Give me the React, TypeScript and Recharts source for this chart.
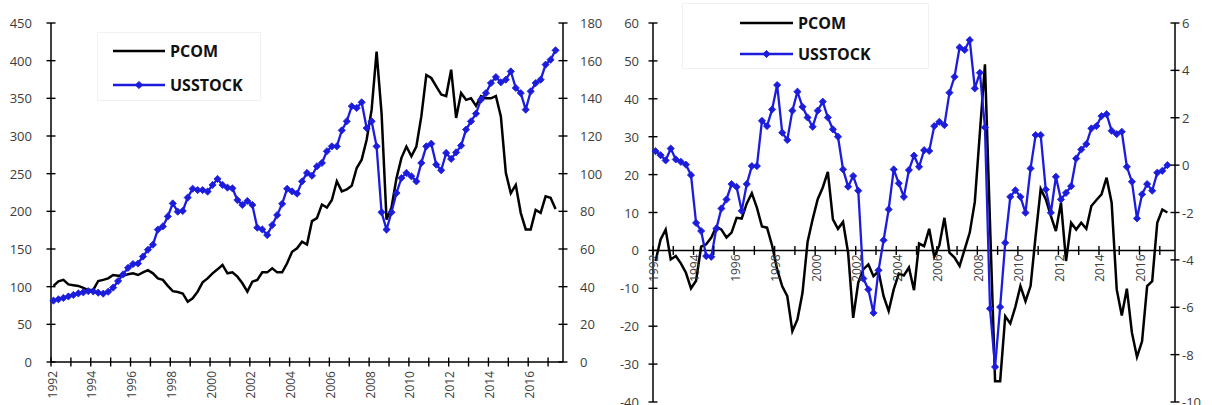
import React from "react";
import { LineChart, Line, XAxis, YAxis, Legend, ReferenceLine } from "recharts";

const FONT = "'Open Sans', 'Noto Sans', sans-serif";
const INK = "#3c3c3c";
const BLUE = "#1c1cdc";

// Quarterly calendar, 1992Q1 .. 2017Q2
const START_YEAR = 1992;
const QUARTER_COUNT = 102;
const QUARTERS: string[] = Array.from(
  { length: QUARTER_COUNT },
  (_, i) => `${START_YEAR + Math.floor(i / 4)}Q${(i % 4) + 1}`
);

// Levels: commodity price index (left axis) and US stock index (right axis)
const PCOM_LEVEL = [
  101, 107, 109, 103, 102, 101, 98.5, 95.5, 95.6, 107.5, 109, 111,
  115.5, 114.6, 114.6, 116.4, 117.7, 115.5, 119, 122, 117.7, 111, 109, 101,
  94, 93, 91, 80, 84.5, 93.4, 105.8, 111, 117.7, 123, 128.8, 117.7,
  119, 113.3, 104.5, 93.4, 106.6, 109, 119, 119, 124.4, 119, 119, 131,
  146.4, 151, 159.7, 156, 187, 191, 209, 205, 215, 240, 226.5, 229,
  234, 257.5, 268.6, 295, 335, 412, 330, 189, 205, 244, 271, 286,
  273, 286, 326, 381, 377, 366, 355, 353, 388, 324, 357, 348,
  350, 340, 353, 350, 350, 353, 326, 251, 224, 235, 198, 176,
  176, 202, 198, 220, 218, 203,
];

const USSTOCK_LEVEL = [
  32.6, 33.3, 34.0, 34.8, 35.6, 36.4, 37.0, 37.6, 37.5, 36.8, 36.3, 37.3,
  39.5, 43.0, 46.5, 50.0, 52.0, 52.3, 56.0, 59.6, 62.3, 70.3, 72.0, 77.3,
  84.2, 79.8, 80.2, 87.3, 92.0, 91.3, 91.3, 90.5, 94.0, 97.2, 94.0, 92.6,
  92.2, 86.0, 83.4, 85.5, 83.4, 71.3, 70.4, 67.4, 72.7, 78.0, 84.0, 92.0,
  90.6, 89.4, 95.9, 100.4, 98.9, 103.9, 105.7, 111.9, 114.5, 114.5, 123.0, 127.8,
  135.8, 134.9, 137.9, 124.2, 127.8, 114.5, 79.5, 70.3, 79.5, 89.7, 97.7, 100.4,
  98.6, 95.9, 105.7, 114.5, 115.9, 104.8, 101.8, 111.0, 107.8, 111.3, 114.9, 123.4,
  127.8, 131.9, 139.3, 142.8, 148.1, 151.3, 148.5, 149.9, 154.3, 145.5, 142.8, 134.0,
  143.7, 148.1, 149.9, 157.9, 160.5, 165.5,
];

// Cyclical components: commodity prices (left axis) and US stocks (right axis)
const PCOM_GAP = [
  -2.8, 2.9, 5.5, -2.4, -1.5, -3.4, -5.9, -10.0, -8.0, 1.0, 1.6, 3.4,
  6.3, 5.5, 3.4, 4.7, 8.6, 8.4, 12.4, 15.1, 11.3, 6.3, 6.0, 1.3,
  -5.0, -9.5, -12.1, -21.3, -18.2, -11.2, 2.2, 8.2, 13.5, 16.6, 20.7, 8.2,
  5.7, 7.5, -0.6, -17.8, -8.5, -5.0, -3.7, -6.8, -5.5, -12.1, -16.0, -10.3,
  -6.1, -6.6, -4.5, -10.5, 1.8, 1.1, 5.7, -1.7, 1.3, 8.6, -0.6, -1.9,
  -4.1, 0.3, 4.7, 12.8, 31.1, 49.1, 7.0, -34.5, -34.5, -17.4, -19.3, -14.9,
  -9.4, -13.4, -9.4, 3.8, 16.2, 13.5, 9.1, 5.1, 12.6, -2.8, 7.3, 5.5,
  7.3, 5.7, 11.7, 13.3, 14.8, 19.2, 12.6, -10.3, -17.2, -10.1, -21.7, -28.1,
  -24.0, -9.4, -8.1, 7.3, 10.8, 10.0,
];

const USSTOCK_GAP = [
  0.59, 0.42, 0.2, 0.7, 0.24, 0.14, 0.02, -0.42, -2.44, -2.78, -3.84, -3.87,
  -2.68, -1.83, -1.45, -0.8, -0.92, -1.93, -0.8, -0.04, -0.04, 1.87, 1.65, 2.35,
  3.38, 1.37, 1.06, 2.3, 3.1, 2.46, 2.01, 1.62, 2.3, 2.68, 2.01, 1.51,
  1.2, -0.18, -0.91, -0.46, -1.08, -4.79, -5.25, -6.24, -4.44, -3.17, -1.87, -0.18,
  -0.77, -1.34, -0.21, 0.4, -0.07, 0.63, 0.6, 1.65, 1.83, 1.69, 3.06, 3.73,
  4.97, 4.86, 5.28, 3.24, 3.9, 1.59, -6.06, -8.52, -5.99, -3.28, -1.34, -1.06,
  -1.34, -2.01, -0.14, 1.27, 1.27, -1.03, -2.01, -0.49, -1.45, -1.17, -0.89, 0.28,
  0.66, 0.89, 1.55, 1.65, 2.07, 2.15, 1.45, 1.31, 1.41, -0.07, -0.7, -2.25,
  -1.23, -0.8, -1.08, -0.32, -0.24, 0.0,
];

const YEAR_TICKS = [
  1992, 1993, 1994, 1995, 1996, 1997, 1998, 1999, 2000, 2001, 2002, 2003, 2004,
  2005, 2006, 2007, 2008, 2009, 2010, 2011, 2012, 2013, 2014, 2015, 2016, 2017,
];
const TIME_DOMAIN: [number, number] = [1992, 2017.75];
const LEVEL_LEFT_TICKS = [0, 50, 100, 150, 200, 250, 300, 350, 400, 450];
const LEVEL_RIGHT_TICKS = [0, 20, 40, 60, 80, 100, 120, 140, 160, 180];
const GAP_LEFT_TICKS = [-40, -30, -20, -10, 0, 10, 20, 30, 40, 50, 60];
const GAP_RIGHT_TICKS = [-10, -8, -6, -4, -2, 0, 2, 4, 6];

// Each quarterly observation sits in the middle of its quarter on the time axis
const quarterTime = (label: string) => {
  const year = Number(label.slice(0, 4));
  const q = Number(label.slice(5));
  return year + (q - 0.5) / 4;
};

const levelRows = QUARTERS.map((q, i) => ({
  quarter: q,
  t: quarterTime(q),
  pcom: PCOM_LEVEL[i],
  usstock: USSTOCK_LEVEL[i],
}));

const gapRows = QUARTERS.map((q, i) => ({
  quarter: q,
  t: quarterTime(q),
  pcom: PCOM_GAP[i],
  usstock: USSTOCK_GAP[i],
}));

// Layout of the cyclical panel; the time axis crosses at zero
const GAP_W = 612;
const GAP_H = 405;
const GAP_TOP = 23;
const GAP_BOTTOM = 3;
const GAP_MIN = -40;
const GAP_MAX = 60;
const GAP_ZERO_Y =
  GAP_TOP + ((GAP_H - GAP_TOP - GAP_BOTTOM) * GAP_MAX) / (GAP_MAX - GAP_MIN);

const diamondPath = (cx: number, cy: number, r: number) =>
  `M${cx},${cy - r}L${cx + r},${cy}L${cx},${cy + r}L${cx - r},${cy}Z`;

const renderDiamond = (props: any) => {
  const { cx, cy, index } = props;
  if (cx == null || cy == null) return <g key={`d-${index}`} />;
  return <path key={`d-${index}`} d={diamondPath(cx, cy, 3.6)} fill={BLUE} stroke={BLUE} strokeWidth={0.8} />;
};

const yearTick = (fixedY: number | null, labelGap: number) => (props: any) => {
  const { x, y, payload } = props;
  const baseY = fixedY ?? y;
  const year = payload.value as number;
  const ly = baseY + labelGap;
  return (
    <g key={`yr-${year}`}>
      <line x1={x} x2={x} y1={baseY - 4.5} y2={baseY + 4.5} stroke="#000" strokeWidth={1.4} />
      {year % 2 === 0 && (
        <text
          x={x + 1}
          y={ly}
          transform={`rotate(-90 ${x + 1} ${ly})`}
          textAnchor="end"
          dominantBaseline="central"
          fontSize={12}
          fontFamily={FONT}
          fill={INK}
        >
          {year}
        </text>
      )}
    </g>
  );
};

const valueTick = (side: "left" | "right", gap: number) => (props: any) => {
  const { x, y, payload } = props;
  return (
    <g key={`v-${side}-${payload.value}`}>
      <line x1={x - 4.5} x2={x + 4.5} y1={y} y2={y} stroke="#000" strokeWidth={1.4} />
      <text
        x={side === "left" ? x - gap : x + gap}
        y={y}
        textAnchor={side === "left" ? "end" : "start"}
        dominantBaseline="central"
        fontSize={13}
        fontFamily={FONT}
        fill={INK}
      >
        {payload.value}
      </text>
    </g>
  );
};

type LegendRow = { label: string; color: string; marker: boolean; y: number };

const LegendBox = ({
  width,
  height,
  lineX1,
  lineX2,
  textX,
  rows,
}: {
  width: number;
  height: number;
  lineX1: number;
  lineX2: number;
  textX: number;
  rows: LegendRow[];
}) => (
  <svg
    width={width}
    height={height}
    style={{ display: "block", background: "#fff", outline: "1px solid #f1f1f1" }}
  >
    {rows.map((r) => (
      <g key={r.label}>
        <line x1={lineX1} x2={lineX2} y1={r.y} y2={r.y} stroke={r.color} strokeWidth={2.6} />
        {r.marker && (
          <path d={diamondPath((lineX1 + lineX2) / 2, r.y, 3.6)} fill={r.color} stroke={r.color} />
        )}
        <text
          x={textX}
          y={r.y}
          dominantBaseline="central"
          fontSize={16}
          fontWeight={700}
          fontFamily={FONT}
          fill="#111"
        >
          {r.label}
        </text>
      </g>
    ))}
  </svg>
);

const axisLineStyle = { stroke: "#000", strokeWidth: 1.5 };

export default function App() {
  return (
    <div
      style={{
        position: "absolute",
        left: 0,
        top: 0,
        width: 1212,
        height: 405,
        background: "#fff",
      }}
    >
      <div style={{ position: "absolute", left: 0, top: 0 }}>
        <LineChart width={612} height={405} data={levelRows} margin={{ top: 23, right: 12, bottom: 0, left: 0 }}>
          <XAxis
            dataKey="t"
            type="number"
            domain={TIME_DOMAIN}
            ticks={YEAR_TICKS}
            interval={0}
            height={43}
            tickSize={0}
            tickMargin={0}
            tickLine={false}
            axisLine={axisLineStyle}
            tick={yearTick(null, 9)}
          />
          <YAxis
            yAxisId="left"
            type="number"
            domain={[0, 450]}
            ticks={LEVEL_LEFT_TICKS}
            interval={0}
            width={51}
            tickSize={0}
            tickMargin={0}
            tickLine={false}
            axisLine={axisLineStyle}
            tick={valueTick("left", 19)}
          />
          <YAxis
            yAxisId="right"
            orientation="right"
            type="number"
            domain={[0, 180]}
            ticks={LEVEL_RIGHT_TICKS}
            interval={0}
            width={37}
            tickSize={0}
            tickMargin={0}
            tickLine={false}
            axisLine={axisLineStyle}
            tick={valueTick("right", 17)}
          />
          <Legend
            layout="vertical"
            align="center"
            verticalAlign="middle"
            wrapperStyle={{ left: 98, top: 33, width: 162, height: 67 }}
            content={() => (
              <LegendBox
                width={162}
                height={67}
                lineX1={15}
                lineX2={67}
                textX={72}
                rows={[
                  { label: "PCOM", color: "#000", marker: false, y: 18 },
                  { label: "USSTOCK", color: BLUE, marker: true, y: 52 },
                ]}
              />
            )}
          />
          <Line
            yAxisId="left"
            dataKey="pcom"
            name="PCOM"
            type="linear"
            stroke="#000"
            strokeWidth={2.5}
            dot={false}
            activeDot={false}
            isAnimationActive={false}
          />
          <Line
            yAxisId="right"
            dataKey="usstock"
            name="USSTOCK"
            type="linear"
            stroke={BLUE}
            strokeWidth={2.3}
            dot={renderDiamond}
            activeDot={false}
            isAnimationActive={false}
          />
        </LineChart>
      </div>

      <div style={{ position: "absolute", left: 600, top: 0 }}>
        <LineChart
          width={GAP_W}
          height={GAP_H}
          data={gapRows}
          margin={{ top: GAP_TOP, right: 0, bottom: 0, left: 0 }}
        >
          <XAxis
            dataKey="t"
            type="number"
            domain={TIME_DOMAIN}
            ticks={YEAR_TICKS}
            interval={0}
            height={GAP_BOTTOM}
            tickSize={0}
            tickMargin={0}
            tickLine={false}
            axisLine={false}
            tick={yearTick(GAP_ZERO_Y, 4)}
          />
          <YAxis
            yAxisId="left"
            type="number"
            domain={[GAP_MIN, GAP_MAX]}
            ticks={GAP_LEFT_TICKS}
            interval={0}
            width={53}
            tickSize={0}
            tickMargin={0}
            tickLine={false}
            axisLine={axisLineStyle}
            tick={valueTick("left", 14)}
          />
          <YAxis
            yAxisId="right"
            orientation="right"
            type="number"
            domain={[-10, 6]}
            ticks={GAP_RIGHT_TICKS}
            interval={0}
            width={37}
            tickSize={0}
            tickMargin={0}
            tickLine={false}
            axisLine={axisLineStyle}
            tick={valueTick("right", 7)}
          />
          <ReferenceLine yAxisId="left" y={0} stroke="#000" strokeWidth={1.5} />
          <Legend
            layout="vertical"
            align="center"
            verticalAlign="middle"
            wrapperStyle={{ left: 83, top: 4, width: 245, height: 64 }}
            content={() => (
              <LegendBox
                width={245}
                height={64}
                lineX1={57}
                lineX2={110}
                textX={115}
                rows={[
                  { label: "PCOM", color: "#000", marker: false, y: 19 },
                  { label: "USSTOCK", color: BLUE, marker: true, y: 50 },
                ]}
              />
            )}
          />
          <Line
            yAxisId="left"
            dataKey="pcom"
            name="PCOM"
            type="linear"
            stroke="#000"
            strokeWidth={2.5}
            dot={false}
            activeDot={false}
            isAnimationActive={false}
          />
          <Line
            yAxisId="right"
            dataKey="usstock"
            name="USSTOCK"
            type="linear"
            stroke={BLUE}
            strokeWidth={2.3}
            dot={renderDiamond}
            activeDot={false}
            isAnimationActive={false}
          />
        </LineChart>
      </div>
    </div>
  );
}
